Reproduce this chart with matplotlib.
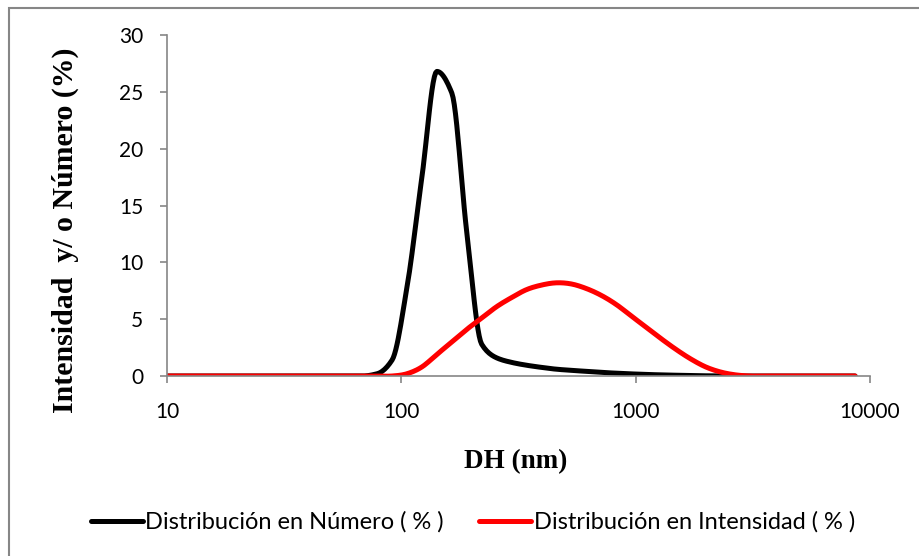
"""
Distribucion de tamano (DLS): numero e intensidad vs DH
"""

import matplotlib.pyplot as plt
import numpy as np
from matplotlib.patches import Rectangle

# Diametro hidrodinamico (nm), bins log del equipo
dh = [10.10, 11.70, 13.54, 15.69, 18.17, 21.04, 24.36, 28.21, 32.67, 37.84,
      43.82, 50.75, 58.77, 68.06, 78.82, 91.28, 105.7, 122.4, 141.8, 164.2,
      190.1, 220.2, 255.0, 295.3, 342.0, 396.1, 458.7, 531.2, 615.1, 712.4,
      825.0, 955.4, 1106, 1281, 1484, 1718, 1990, 2305, 2669, 3091,
      3580, 4145, 4801, 5560, 6439, 7456, 8635]

# Distribucion en numero (%)
numero = [0, 0, 0, 0, 0, 0, 0, 0, 0, 0,
          0, 0, 0, 0, 0.2, 1.4, 7.8, 17.5, 26.8, 24.9,
          12.7, 2.8, 1.6, 1.2, 0.95, 0.76, 0.6, 0.5, 0.41, 0.32,
          0.25, 0.19, 0.14, 0.1, 0.07, 0.04, 0.02, 0.01, 0, 0,
          0, 0, 0, 0, 0, 0, 0]

# Distribucion en intensidad (%)
intensidad = [0, 0, 0, 0, 0, 0, 0, 0, 0, 0,
              0, 0, 0, 0, 0, 0, 0.2, 0.8, 1.9, 3.0,
              4.1, 5.1, 6.1, 6.9, 7.6, 8.0, 8.2, 8.1, 7.7, 7.1,
              6.3, 5.3, 4.3, 3.3, 2.35, 1.5, 0.8, 0.35, 0.1, 0,
              0, 0, 0, 0, 0, 0, 0]

x_ticks = [10, 100, 1000, 10000]
x_ticklabels = ['10', '100', '1000', '10000']
y_ticks = [0, 5, 10, 15, 20, 25, 30]


def smooth(x, y, n=12, monotone=True):
    # suavizado en log x: monotono (Fritsch-Carlson) o Catmull-Rom
    lx = np.log10(np.asarray(x, float))
    y = np.asarray(y, float)
    h = np.diff(lx)
    d = np.diff(y) / h
    m = np.zeros_like(y)
    m[0], m[-1] = d[0], d[-1]
    for k in range(1, len(y) - 1):
        if not monotone:
            m[k] = (y[k + 1] - y[k - 1]) / (lx[k + 1] - lx[k - 1])
        elif d[k - 1] * d[k] > 0:
            w1 = 2 * h[k] + h[k - 1]
            w2 = h[k] + 2 * h[k - 1]
            m[k] = (w1 + w2) / (w1 / d[k - 1] + w2 / d[k])
    xs, ys = [], []
    for k in range(len(y) - 1):
        t = np.linspace(0, 1, n, endpoint=False)
        h00 = 2 * t ** 3 - 3 * t ** 2 + 1
        h10 = t ** 3 - 2 * t ** 2 + t
        h01 = -2 * t ** 3 + 3 * t ** 2
        h11 = t ** 3 - t ** 2
        xs.extend(lx[k] + t * h[k])
        ys.extend(h00 * y[k] + h10 * h[k] * m[k] + h01 * y[k + 1] + h11 * h[k] * m[k + 1])
    xs.append(lx[-1])
    ys.append(y[-1])
    return 10 ** np.array(xs), np.array(ys)


plt.rcParams['font.family'] = ['Lato', 'DejaVu Sans']
gray = '#868686'

fig = plt.figure(figsize=(9.2, 5.56), dpi=100)
ax = fig.add_axes([0.1815, 0.3237, 0.7642, 0.6133])

# borde del area del grafico
fig.patches.append(Rectangle((9.5 / 920, -0.05), 1.2, 1.05 - 7.5 / 556,
                             transform=fig.transFigure, fill=False,
                             edgecolor=gray, linewidth=1.5))

xn, yn = smooth(dh, numero)
xi, yi = smooth(dh, intensidad, monotone=False)
ax.plot(xn, yn, color='black', linewidth=3.6, solid_capstyle='round',
        label='Distribución en Número ( % )')
ax.plot(xi, yi, color='#ff0000', linewidth=3.6, solid_capstyle='round',
        label='Distribución en Intensidad ( % )')

ax.set_xscale('log')
ax.set_xlim(10, 10000)
ax.set_ylim(0, 30)
ax.set_xticks(x_ticks)
ax.set_xticklabels(x_ticklabels)
ax.minorticks_off()
ax.set_yticks(y_ticks)

for s in ['top', 'right']:
    ax.spines[s].set_visible(False)
for s in ['left', 'bottom']:
    ax.spines[s].set_color(gray)
    ax.spines[s].set_linewidth(1.2)
ax.tick_params(axis='both', colors=gray, length=5, width=1.2,
               labelcolor='black', labelsize=15)
ax.tick_params(axis='x', pad=14)
ax.tick_params(axis='y', pad=12)

fig.text(516 / 920, 1 - 462 / 556, 'DH (nm)', family='Liberation Serif',
         fontweight='bold', fontsize=19.5, ha='center', va='center')
fig.text(65 / 920, 1 - 230 / 556, 'Intensidad  y/ o Número (%)',
         family='Liberation Serif', fontweight='bold', fontsize=21.5,
         rotation=90, ha='center', va='center')

ax.legend(loc='center', bbox_to_anchor=(0.514, 0.061), bbox_transform=fig.transFigure,
          ncol=2, frameon=False, fontsize=17, handlelength=2.2,
          handletextpad=0.1, columnspacing=1.5, borderaxespad=0)

plt.savefig('out.png', dpi=100)
print("Saved: out.png")
